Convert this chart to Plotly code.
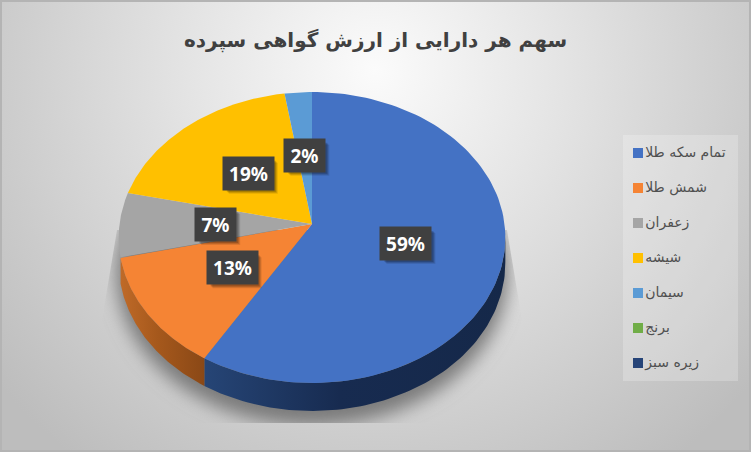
import base64
import numpy as np
import plotly.graph_objects as go

# labels and shares (the last two are empty, legend only)
categories = ['تمام سکه طلا', 'شمش طلا', 'زعفران', 'شیشه', 'سیمان', 'برنج', 'زیره سبز']
shares = [58.6, 12.7, 7.2, 19.0, 2.49, 0, 0]
colors = ['#4472c4', '#f58434', '#a5a5a5', '#ffc000', '#5b9bd5', '#70ad47', '#264478']
title_text = 'سهم هر دارایی از ارزش گواهی سپرده'

W, H = 751, 452
# tilted pie: apex, radii, perspective and rim depth in page pixels
CX, CY, RX, RY, K, DEPTH = 312, 224, 192.5, 144.2, 0.0927, 25.4
RIM = {0: ['#152849', '#172b50', '#264576'], 1: ['#8a4816', '#a5581c', '#bf6a28']}
# legend box and rows
LEG_X0, LEG_X1, LEG_Y0, LEG_Y1 = 623, 738, 135, 381
LEG_SWATCH_X, LEG_ROW0, LEG_PITCH = 638, 153, 35


def project(theta, frac=1.0):
    u, v = np.sin(theta) * frac, np.cos(theta) * frac
    d = 1 + K * v
    return CX + RX * u / d, CY - RY * v / d


def rim_drop(theta):
    return DEPTH / (1 + K * np.cos(theta))


bg_svg = f'''<svg xmlns="http://www.w3.org/2000/svg" width="{W}" height="{H}">
<defs>
<radialGradient id="g" gradientUnits="userSpaceOnUse" cx="375" cy="70" r="490">
<stop offset="0" stop-color="#fbfbfb"/><stop offset="0.35" stop-color="#e6e6e6"/><stop offset="1" stop-color="#bdbdbd"/>
</radialGradient>
<filter id="b" x="-20%" y="-20%" width="140%" height="140%"><feGaussianBlur stdDeviation="9"/></filter>
<clipPath id="c"><path d="M117 230 L507 230 L522 320 L522 423 L102 423 L102 320 Z"/></clipPath>
</defs>
<rect width="{W}" height="{H}" fill="url(#g)"/>
<g clip-path="url(#c)"><ellipse cx="312" cy="272" rx="196" ry="154" fill="#7a7a7a" filter="url(#b)"/></g>
<rect x="1" y="1" width="{W - 2}" height="{H - 2}" fill="none" stroke="#b4b4b4" stroke-width="2"/>
</svg>'''
bg_uri = 'data:image/svg+xml;base64,' + base64.b64encode(bg_svg.encode()).decode()

fig = go.Figure()

edges = np.cumsum([0] + shares) / sum(shares) * 2 * np.pi

# side of the pie first, the top faces go over it
for i, stops in RIM.items():
    t = np.linspace(max(edges[i], np.radians(95)), edges[i + 1], 90)
    x, y = project(t)
    low = y + rim_drop(t)
    xs = np.concatenate([x, x[::-1]])
    ys = np.concatenate([y, low[::-1]])
    # gradient runs left to right, so left colour is the last stop
    scale = [[0, stops[2]], [0.45, stops[1]], [1, stops[0]]]
    fig.add_trace(go.Scatter(x=xs, y=ys, mode='lines', fill='toself', line=dict(width=0),
                             fillgradient=dict(type='horizontal', colorscale=scale),
                             showlegend=False, hoverinfo='skip'))

for i, name in enumerate(categories):
    t = np.linspace(edges[i], edges[i + 1], 120)
    x, y = project(t)
    xs = np.concatenate([[CX], x, [CX]])
    ys = np.concatenate([[CY], y, [CY]])
    fig.add_trace(go.Scatter(x=xs, y=ys, mode='lines', fill='toself', fillcolor=colors[i], name=name,
                             line=dict(width=0), showlegend=False, hoverinfo='skip'))

# legend drawn as a marker trace so rows and swatches sit where the reference has them
rows = [LEG_ROW0 + LEG_PITCH * i for i in range(len(categories))]
fig.add_trace(go.Scatter(x=[LEG_SWATCH_X] * len(categories), y=rows, mode='markers+text',
                         text=categories, textposition='middle right',
                         textfont=dict(family='DejaVu Sans', size=14, color='#505050'),
                         marker=dict(symbol='square', size=10, color=colors),
                         showlegend=False, hoverinfo='skip'))

shapes = [dict(type='rect', x0=LEG_X0, x1=LEG_X1, y0=LEG_Y0, y1=LEG_Y1, layer='below',
               line=dict(width=0), fillcolor='rgba(255,255,255,0.22)')]
annotations = []
for i, share in enumerate(shares):
    if share == 0:
        continue
    mid = (edges[i] + edges[i + 1]) / 2
    lx, ly = project(mid, 0.5)
    text = f'{round(share)}%'
    w = 49 if len(text) == 3 else 39
    # soft shadow under the label box
    for off, alpha in ((5, 0.10), (4, 0.14), (3, 0.18)):
        shapes.append(dict(type='rect', x0=lx - w / 2 + off, x1=lx + w / 2 + off,
                           y0=ly - 15.5 + off, y1=ly + 15.5 + off, layer='above',
                           line=dict(width=0), fillcolor=f'rgba(0,0,0,{alpha})'))
    annotations.append(dict(x=lx, y=ly, text=f'<b>{text}</b>', showarrow=False, width=w, height=31,
                            xref='x', yref='y', bgcolor='#404040',
                            font=dict(family='Noto Sans', size=19, color='white')))

fig.update_layout(
    width=W, height=H,
    margin=dict(l=0, r=0, t=0, b=0),
    paper_bgcolor='rgba(0,0,0,0)',
    plot_bgcolor='rgba(0,0,0,0)',
    showlegend=False,
    title=dict(text=title_text, x=0.5, xanchor='center', y=0.912, yanchor='middle',
               font=dict(family='DejaVu Sans', size=20, color='#404040', weight='bold')),
    xaxis=dict(visible=False, range=[0, W], fixedrange=True),
    yaxis=dict(visible=False, range=[H, 0], fixedrange=True),
    images=[dict(source=bg_uri, xref='paper', yref='paper', x=0, y=1, sizex=1, sizey=1,
                 sizing='stretch', xanchor='left', yanchor='top', layer='below')],
    shapes=shapes,
    annotations=annotations,
    hovermode=False,
)

fig.write_html('out.html', config=dict(displayModeBar=False),
               post_script="document.body.style.margin='0';document.body.style.overflow='hidden';")
